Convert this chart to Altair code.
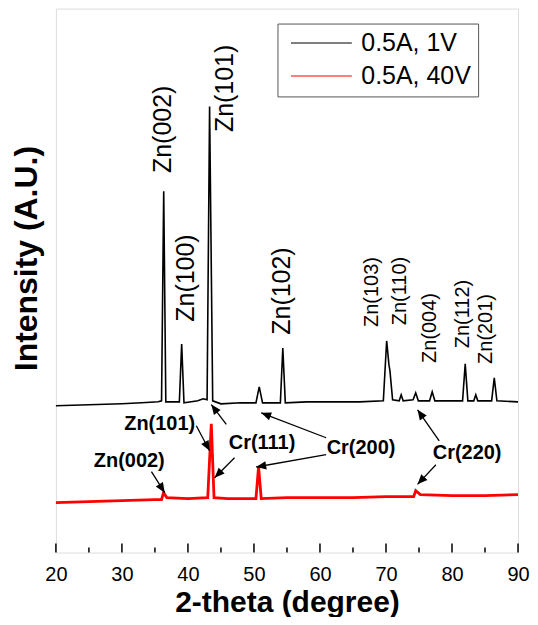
import math
import altair as alt
import pandas as pd

# ---------------- data ----------------
SERIES = ["0.5A, 1V", "0.5A, 40V"]
COLORS = ["#000000", "#ff0000"]

black_theta = [20, 25, 30, 33, 35.5, 36.0, 36.33, 36.65, 38.7, 39.05, 39.4, 40.5, 41.5, 42.3, 42.9,
               43.28, 43.75, 45, 48, 50.3, 50.8, 51.3, 54.0, 54.37, 54.75, 58, 62, 66, 69.6, 70.1,
               70.45, 70.6, 71.0, 72.0, 72.3, 72.6, 74.1, 74.5, 74.9, 76.6, 77.0, 77.4, 81.6, 82.0,
               82.4, 83.3, 83.6, 83.9, 86.0, 86.4, 86.8, 90]
black_int = [147, 148, 149, 150, 151, 152, 362, 151, 151, 209, 150, 151, 152, 154, 153,
             447, 152, 149, 150, 150, 166, 150, 150, 205, 150, 151, 151, 151, 152, 212,
             188, 182, 153, 152, 158, 152, 153, 160, 152, 152, 161, 152, 152, 189,
             152, 152, 158, 152, 152, 175, 152, 151]

red_theta = [20, 25, 30, 35, 36.0, 36.3, 36.8, 40, 43.0, 43.54, 43.95, 46, 50.3, 50.7, 51.1,
             55, 60, 65, 70, 74.2, 74.5, 75.2, 80, 85, 90]
red_int = [50, 51, 52, 53, 53, 60, 55, 54, 55, 129, 55, 54, 54, 86, 54,
           55, 55, 55, 56, 56, 62, 58, 57, 57, 58]

x_major = [20, 30, 40, 50, 60, 70, 80, 90]
x_minor = [25, 35, 45, 55, 65, 75, 85]

# peak labels of the upper pattern (rotated)
big_lab = ["Zn(002)", "Zn(100)", "Zn(101)", "Zn(102)"]
big_theta = [36.18, 39.76, 45.63, 54.32]
big_int = [424, 275, 465, 262]

small_lab = ["Zn(103)", "Zn(110)", "Zn(004)", "Zn(112)", "Zn(201)"]
small_theta = [67.85, 72.16, 76.65, 81.69, 85.16]
small_int = [261, 262, 225, 239, 224]

# bold labels between the patterns
bold_lab = ["Zn(101)", "Cr(111)", "Cr(200)", "Zn(002)", "Cr(220)"]
bold_theta = [35.72, 51.22, 66.22, 31.11, 82.29]
bold_int = [129, 110, 105, 92, 100]

# arrows: start -> tip
arr_t1 = [41.27, 47.06, 45.81, 60.93, 60.93, 34.47, 78.06, 77.56]
arr_v1 = [127, 95, 128.3, 115, 98, 81, 112, 88]
arr_t2 = [43.28, 44.04, 43.54, 51.09, 50.34, 36.48, 74.78, 74.78]
arr_v2 = [102, 75, 148.3, 140, 85.7, 60, 143, 68.3]

# ---------------- layout ----------------
W, H = 463, 545
XDOM = [20, 90]
YDOM = [0, 545]
FONT = "Liberation Sans"
LEG_PATH = "M-0.6,0L5.5,0"

color_enc = alt.Color(
    "series:N", scale=alt.Scale(domain=SERIES, range=COLORS),
    legend=alt.Legend(title=None, orient="none", legendX=222, legendY=15,
                      padding=7, strokeColor="#555555", symbolType=LEG_PATH,
                      symbolSize=400, symbolStrokeWidth=1.1,
                      labelFontSize=25, labelFont=FONT, labelColor="black",
                      labelOffset=52, rowPadding=7))

x_enc = alt.X("theta:Q", scale=alt.Scale(domain=XDOM, nice=False, zero=False),
              axis=alt.Axis(values=x_major, format="d", ticks=False, domain=False, grid=False,
                            labelFontSize=20, labelFont=FONT, labelColor="black", labelPadding=12,
                            labelFlush=False, title="2-theta (degree)", titleFontSize=30,
                            titleFont=FONT, titleFontWeight="bold", titleColor="black",
                            titleY=50, titleBaseline="middle"))
y_enc = alt.Y("intensity:Q", scale=alt.Scale(domain=YDOM, nice=False, zero=False),
              axis=alt.Axis(labels=False, ticks=False, domain=False, grid=False,
                            title="Intensity (A.U.)", titleFontSize=32, titleFont=FONT,
                            titleFontWeight="bold", titleColor="black", titleX=-29, titleY=250,
                            titleAngle=270, titleAlign="center", titleBaseline="middle"))

df_black = pd.DataFrame({"theta": black_theta, "intensity": black_int,
                         "series": [SERIES[0]] * len(black_theta)})
df_red = pd.DataFrame({"theta": red_theta, "intensity": red_int,
                       "series": [SERIES[1]] * len(red_theta)})

line_black = alt.Chart(df_black).mark_line(strokeWidth=1.6).encode(
    x=x_enc, y=y_enc, color=color_enc)
line_red = alt.Chart(df_red).mark_line(strokeWidth=2.8).encode(
    x="theta:Q", y="intensity:Q", color=color_enc)

df_major = pd.DataFrame({"theta": x_major})
df_minor = pd.DataFrame({"theta": x_minor})
ticks_major = alt.Chart(df_major).mark_rule(color="black", strokeWidth=1.5).encode(
    x="theta:Q", y=alt.value(H), y2=alt.value(H - 9))
ticks_minor = alt.Chart(df_minor).mark_rule(color="black", strokeWidth=1.5).encode(
    x="theta:Q", y=alt.value(H), y2=alt.value(H - 5))

df_big = pd.DataFrame({"theta": big_theta, "intensity": big_int, "label": big_lab})
txt_big = alt.Chart(df_big).mark_text(angle=270, fontSize=25, font=FONT, color="black",
                                      align="center", baseline="middle").encode(
    x="theta:Q", y="intensity:Q", text="label:N")

df_small = pd.DataFrame({"theta": small_theta, "intensity": small_int, "label": small_lab})
txt_small = alt.Chart(df_small).mark_text(angle=270, fontSize=20, font=FONT, color="black",
                                          align="center", baseline="middle").encode(
    x="theta:Q", y="intensity:Q", text="label:N")

df_bold = pd.DataFrame({"theta": bold_theta, "intensity": bold_int, "label": bold_lab})
txt_bold = alt.Chart(df_bold).mark_text(fontSize=20, font=FONT, fontWeight="bold", color="black",
                                        align="center", baseline="middle").encode(
    x="theta:Q", y="intensity:Q", text="label:N")

# arrow direction in screen pixels
px_per_deg = W / (XDOM[1] - XDOM[0])
px_per_int = H / (YDOM[1] - YDOM[0])
angles = []
for t1, v1, t2, v2 in zip(arr_t1, arr_v1, arr_t2, arr_v2):
    dx = (t2 - t1) * px_per_deg
    dy = -(v2 - v1) * px_per_int
    angles.append(math.degrees(math.atan2(dx, -dy)) % 360)

df_arr = pd.DataFrame({"theta": arr_t1, "intensity": arr_v1, "theta2": arr_t2,
                       "intensity2": arr_v2, "ang": angles})
arrow_lines = alt.Chart(df_arr).mark_rule(color="black", strokeWidth=1.3).encode(
    x="theta:Q", y="intensity:Q", x2="theta2:Q", y2="intensity2:Q")
arrow_heads = alt.Chart(df_arr).mark_point(shape="M0,0L-0.42,1L0.42,1Z", filled=True,
                                           color="black", opacity=1, size=400,
                                           strokeWidth=0).encode(
    x="theta2:Q", y="intensity2:Q", angle=alt.Angle("ang:Q", scale=None))

chart = alt.layer(
    line_black, line_red, ticks_major, ticks_minor, txt_big, txt_small, txt_bold,
    arrow_lines, arrow_heads
).properties(
    width=W, height=H,
    autosize=alt.AutoSizeParams(type="none"),
    padding={"left": 48, "top": 0, "right": 12, "bottom": 64},
).configure_view(stroke="black", strokeWidth=2).configure(font=FONT)

chart.save("out.html", embed_options={"renderer": "svg", "actions": False})
